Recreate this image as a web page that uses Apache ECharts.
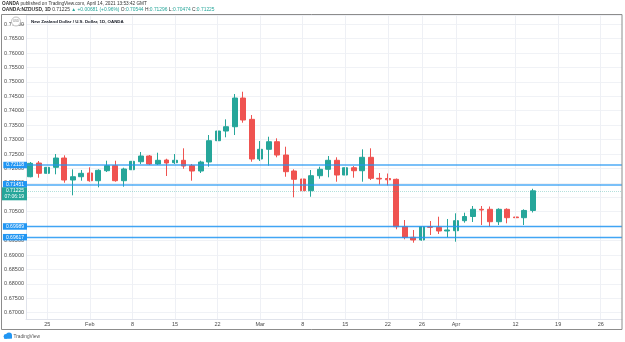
<!DOCTYPE html>
<html><head><meta charset="utf-8">
<script src="https://cdn.jsdelivr.net/npm/echarts@6/dist/echarts.min.js"></script>
<style>html,body{margin:0;padding:0;background:#fff;}#c{width:625px;height:342px;}</style>
</head><body><div id="c"></div>
<script>
// ---- data ----
const dates = [
 '2021-01-21','2021-01-22','2021-01-25','2021-01-26','2021-01-27','2021-01-28','2021-01-29',
 '2021-02-01','2021-02-02','2021-02-03','2021-02-04','2021-02-05','2021-02-08','2021-02-09','2021-02-10','2021-02-11','2021-02-12',
 '2021-02-15','2021-02-16','2021-02-17','2021-02-18','2021-02-19','2021-02-22','2021-02-23','2021-02-24','2021-02-25','2021-02-26',
 '2021-03-01','2021-03-02','2021-03-03','2021-03-04','2021-03-05','2021-03-08','2021-03-09','2021-03-10','2021-03-11','2021-03-12',
 '2021-03-15','2021-03-16','2021-03-17','2021-03-18','2021-03-19','2021-03-22','2021-03-23','2021-03-24','2021-03-25','2021-03-26',
 '2021-03-29','2021-03-30','2021-03-31','2021-04-01','2021-04-02','2021-04-05','2021-04-06','2021-04-07','2021-04-08','2021-04-09',
 '2021-04-12','2021-04-13','2021-04-14',
 '2021-04-15','2021-04-16','2021-04-19','2021-04-20','2021-04-21','2021-04-22','2021-04-23','2021-04-26','2021-04-27','2021-04-28'
];
const opens = [0.71713,0.72188,0.71831,0.72039,0.72361,0.71599,0.71713,0.71842,0.71575,0.71921,
 0.72095,0.71575,0.71956,0.72233,0.72431,0.72154,0.72292,0.72199,0.72282,0.72095,
 0.71911,0.72223,0.72961,0.73297,0.73446,0.74440,0.73702,0.72327,0.72663,0.72926,
 0.72465,0.71911,0.71634,0.71228,0.71748,0.71970,0.72282,0.71772,0.72025,0.71921,
 0.72386,0.71658,0.71651,0.71623,0.69981,0.69614,0.69520,0.69981,0.69960,0.69832,
 0.69842,0.70189,0.70334,0.70584,0.70584,0.70154,0.70584,0.70317,0.70293,0.70544];
const closes = [0.72178,0.71831,0.72039,0.72361,0.71599,0.71713,0.71831,0.71575,0.71935,0.72095,
 0.71575,0.71980,0.72247,0.72431,0.72154,0.72282,0.72188,0.72282,0.72084,0.71911,
 0.72223,0.72961,0.73297,0.73446,0.74440,0.73678,0.72327,0.72663,0.72926,0.72465,
 0.71887,0.71623,0.71228,0.71748,0.71970,0.72282,0.71772,0.72025,0.71921,0.72386,
 0.71658,0.71634,0.71606,0.69981,0.69614,0.69520,0.69981,0.69960,0.69832,0.69867,
 0.70189,0.70334,0.70584,0.70560,0.70154,0.70584,0.70293,0.70293,0.70544,0.71225];
const highs = [0.72223,0.72257,0.72119,0.72500,0.72455,0.71970,0.71946,0.72039,0.71970,0.72268,
 0.72268,0.72025,0.72316,0.72569,0.72465,0.72545,0.72337,0.72500,0.72698,0.72154,
 0.72268,0.73158,0.73425,0.73702,0.74579,0.74659,0.73851,0.72950,0.73099,0.73044,
 0.72753,0.71970,0.71807,0.71946,0.72060,0.72431,0.72386,0.72119,0.72084,0.72663,
 0.72698,0.71842,0.71824,0.71651,0.70213,0.69867,0.70005,0.70178,0.70327,0.70248,
 0.70445,0.70466,0.70698,0.70698,0.70681,0.70619,0.70619,0.70421,0.70584,0.71296];
const lows = [0.71693,0.71679,0.71762,0.71797,0.71506,0.71069,0.71575,0.71540,0.71346,0.71876,
 0.71540,0.71367,0.71887,0.72154,0.72119,0.72119,0.71738,0.72154,0.71991,0.71575,
 0.71842,0.72060,0.72836,0.73079,0.73158,0.73585,0.72233,0.72257,0.72095,0.72386,
 0.71713,0.71000,0.71020,0.71020,0.71644,0.71693,0.71540,0.71713,0.71679,0.71540,
 0.71599,0.71443,0.71409,0.69891,0.69544,0.69427,0.69496,0.69693,0.69728,0.69614,
 0.69461,0.70120,0.70144,0.70040,0.69981,0.70040,0.70099,0.70154,0.70040,0.70474];
const tickDates = ['2021-01-25','2021-02-01','2021-02-08','2021-02-15','2021-02-22','2021-03-01','2021-03-08',
 '2021-03-15','2021-03-22','2021-03-26','2021-04-01','2021-04-12','2021-04-19','2021-04-26'];
const tickLabels = ['25','Feb','8','15','22','Mar','8','15','22','26','Apr','12','19','26'];
const levelLines = [0.72118, 0.71451, 0.69989, 0.69617];
const lastPrice = 0.71225;
const countdown = '07:06:19';
const yMin = 0.66782, yMax = 0.77318;

// ---- chart ----
const FONT = 'Liberation Sans, Arial, sans-serif';
const UP = '#26a69a', DOWN = '#ef5350', BLUE = '#2196f3';
const chart = echarts.init(document.getElementById('c'), null, {renderer: 'canvas'});
const candleData = dates.map((d, i) => i < opens.length ? [opens[i], closes[i], lows[i], highs[i]] : '-');
const labelMap = {};
tickDates.forEach((d, i) => labelMap[d] = tickLabels[i]);
const empty = dates.map(() => '-');

const option = {
  animation: false,
  backgroundColor: '#ffffff',
  grid: {left: 26, right: 3, top: 15, bottom: 23},
  xAxis: {
    type: 'category', data: dates, boundaryGap: true,
    axisLine: {show: true, lineStyle: {color: '#e0e3eb'}},
    axisTick: {show: false},
    splitLine: {show: false},
    axisLabel: {
      interval: (i, v) => labelMap[v] !== undefined,
      formatter: v => labelMap[v] || '',
      fontSize: 5.5, color: '#4a4a4a', margin: 2, fontFamily: FONT
    }
  },
  yAxis: {
    type: 'value', min: yMin, max: yMax, splitNumber: 20, scale: true,
    axisLine: {show: true, lineStyle: {color: '#e0e3eb'}},
    axisTick: {show: false},
    splitLine: {show: true, lineStyle: {color: '#f0f2f6', width: 1}},
    axisLabel: {
      showMinLabel: false, showMaxLabel: false,
      formatter: v => v.toFixed(5), fontSize: 5.5, color: '#4a4a4a', margin: 2, fontFamily: FONT
    }
  },
  series: [
    {
      type: 'line', data: empty, z: 0, silent: true, symbol: 'none',
      markLine: {
        silent: true, symbol: 'none', animation: false,
        lineStyle: {color: '#eef0f5', width: 1, type: 'solid'},
        label: {show: false},
        data: tickDates.map(d => ({xAxis: d}))
      }
    },
    {
      type: 'candlestick', data: candleData, barWidth: '64%', z: 2,
      itemStyle: {color: UP, color0: DOWN, borderColor: UP, borderColor0: DOWN, borderWidth: 1}
    },
    {
      type: 'line', data: empty, z: 5, silent: true, symbol: 'none',
      markLine: {
        silent: true, symbol: 'none', animation: false, precision: 5,
        data: levelLines.map((v, i) => ({
          yAxis: v,
          lineStyle: {color: i < 2 ? 'rgba(33,150,243,0.6)' : 'rgba(33,150,243,0.85)', width: i < 2 ? 2 : 1.3, type: 'solid'},
          label: {
            show: true, position: 'start', distance: -1,
            formatter: () => v.toFixed(5),
            backgroundColor: BLUE, color: '#ffffff', fontSize: 5, fontFamily: FONT,
            padding: [1, 3, 0.5, 3]
          }
        })).concat([{
          yAxis: lastPrice,
          lineStyle: {color: 'rgba(38,166,154,0.35)', width: 1, type: 'dotted'},
          label: {
            show: true, position: 'start', distance: -1, offset: [0, 3],
            formatter: () => lastPrice.toFixed(5) + '\n' + countdown,
            backgroundColor: UP, color: '#ffffff', fontSize: 5, lineHeight: 6, fontFamily: FONT,
            padding: [0.5, 3, 0.5, 3]
          }
        }])
      }
    }
  ],
  graphic: [
    {type: 'rect', z: 100, silent: true, shape: {x: 1.5, y: 14.5, width: 620.5, height: 315}, style: {fill: 'none', stroke: '#8c8c8c', lineWidth: 1}},
    {type: 'text', z: 100, left: 2, top: 1.5, style: {
      text: '{b|OANDA} published on TradingView.com, April 14, 2021 13:53:42 GMT',
      font: '4.7px ' + FONT, fill: '#333333',
      rich: {b: {fontWeight: 'bold', fontSize: 4.7, fontFamily: FONT, fill: '#333333'}}
    }},
    {type: 'text', z: 100, left: 2, top: 7.5, style: {
      text: '{b|OANDA:NZDUSD, 1D} 0.71225 {g|▲ +0.00681 (+0.96%)} O:{g|0.70544} H:{g|0.71296} L:{g|0.70474} C:{g|0.71225}',
      font: '4.9px ' + FONT, fill: '#333333',
      rich: {
        b: {fontWeight: 'bold', fontSize: 4.9, fontFamily: FONT, fill: '#333333'},
        g: {fontSize: 4.9, fontFamily: FONT, fill: UP}
      }
    }},
    {type: 'circle', z: 100, silent: true, shape: {cx: 16, cy: 21.5, r: 4.5}, style: {fill: '#ffffff', stroke: '#b0b0b0', lineWidth: 0.8}},
    {type: 'text', z: 101, silent: true, x: 16, y: 21.5, style: {text: 'USD', font: '2.8px ' + FONT, fill: '#777', align: 'center', verticalAlign: 'middle'}},
    {type: 'text', z: 101, silent: true, x: 21, y: 24.5, style: {text: 'NZ', font: '2.5px ' + FONT, fill: '#777', align: 'left', verticalAlign: 'middle'}},
    {type: 'text', z: 100, silent: true, x: 31, y: 22, style: {
      text: 'New Zealand Dollar / U.S. Dollar, 1D, OANDA',
      font: 'bold 4.4px ' + FONT, fill: '#131722', align: 'left', verticalAlign: 'middle'
    }},
    {type: 'circle', z: 100, silent: true, shape: {cx: 6, cy: 336.5, r: 2.4}, style: {fill: '#2196f3'}},
    {type: 'circle', z: 100, silent: true, shape: {cx: 9, cy: 335.5, r: 3}, style: {fill: '#2196f3'}},
    {type: 'rect', z: 100, silent: true, shape: {x: 4, y: 336, width: 8, height: 2.6}, style: {fill: '#2196f3'}},
    {type: 'text', z: 100, silent: true, x: 13.5, y: 336.8, style: {text: 'TradingView', font: '4.8px ' + FONT, fill: '#555', align: 'left', verticalAlign: 'middle'}}
  ]
};
chart.setOption(option);
</script>
</body></html>
